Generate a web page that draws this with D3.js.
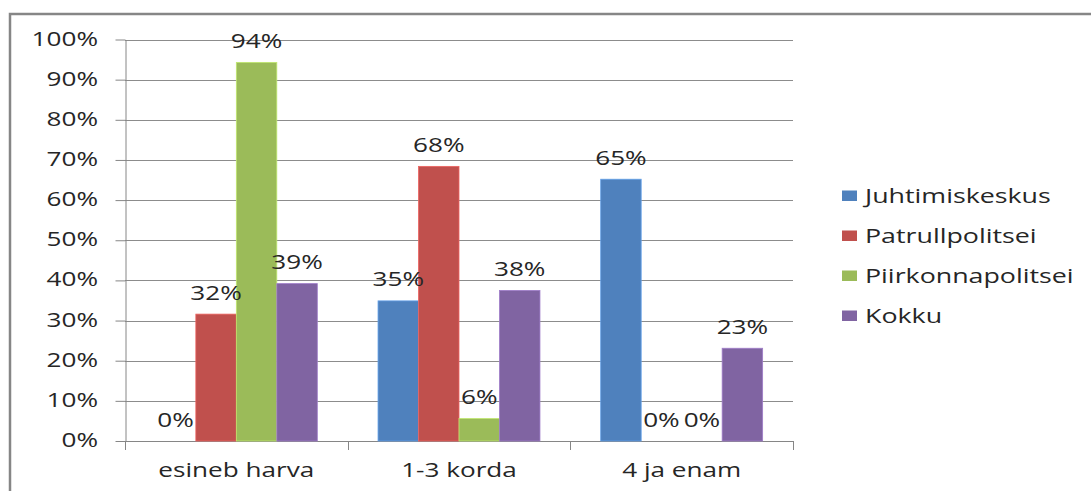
<!DOCTYPE html>
<html>
<head>
<meta charset="utf-8">
<script src="https://cdn.jsdelivr.net/npm/d3@7"></script>
<style>
  body { margin: 0; background: #fff; }
  text { font-family: "Open Sans", sans-serif; fill: #262626; }
</style>
</head>
<body>
<div class="chart"></div>
<script>
var categories = ['esineb harva', '1-3 korda', '4 ja enam'];
var seriesNames = ['Juhtimiskeskus', 'Patrullpolitsei', 'Piirkonnapolitsei', 'Kokku'];
var seriesColors = ['#4F81BD', '#C0504D', '#9BBB59', '#8064A2'];
// values per series, one per category (percent)
var juhtimiskeskus = [0, 34.9, 65.2];
var patrullpolitsei = [31.6, 68.4, 0];
var piirkonnapolitsei = [94.3, 5.6, 0];
var kokku = [39.2, 37.5, 23.1];
var yTicks = [0, 10, 20, 30, 40, 50, 60, 70, 80, 90, 100];

var seriesValues = [juhtimiskeskus, patrullpolitsei, piirkonnapolitsei, kokku];

var width = 1091,
    height = 491,
    plotLeft = 125,
    plotRight = 793,
    plotTop = 39.5,
    plotBottom = 441,
    stretch = 1.34,   // the original picture is squeezed wide
    fontSize = 19.5;

var svg = d3.select('.chart').append('svg')
  .attr('width', width)
  .attr('height', height);

// outer frame, runs off the right and bottom edges
svg.append('rect')
  .attr('x', 10)
  .attr('y', 14)
  .attr('width', width + 20)
  .attr('height', height + 20)
  .attr('fill', 'none')
  .attr('stroke', '#868686')
  .attr('stroke-width', 2.5);

var x0 = d3.scaleBand()
  .domain(categories)
  .range([plotLeft, plotRight])
  .paddingInner(0)
  .paddingOuter(0);

var x1 = d3.scaleBand()
  .domain(seriesNames)
  .range([0, x0.bandwidth()])
  .paddingInner(0)
  .paddingOuter(0.75);

var y = d3.scaleLinear()
  .domain([0, 100])
  .range([plotBottom, plotTop]);

function stretched(sel, getX, getY) {
  sel.attr('transform', function(d, i) {
    return 'translate(' + getX(d, i) + ',' + getY(d, i) + ') scale(' + stretch + ',1)';
  });
}

// gridlines
svg.append('g').attr('class', 'grid')
  .selectAll('line')
  .data(yTicks)
  .enter().append('line')
  .attr('x1', plotLeft)
  .attr('x2', plotRight)
  .attr('y1', function(d) { return Math.round(y(d)) + 0.5; })
  .attr('y2', function(d) { return Math.round(y(d)) + 0.5; })
  .attr('stroke', '#8c8c8c')
  .attr('stroke-width', 1.2);

// y axis
var yAxis = d3.axisLeft(y)
  .tickValues(yTicks)
  .tickSizeInner(10)
  .tickSizeOuter(0)
  .tickPadding(0)
  .tickFormat(function(d) { return d + '%'; });

var gy = svg.append('g')
  .attr('transform', 'translate(' + (plotLeft + 0.5) + ',0)')
  .call(yAxis);
gy.select('.domain').attr('stroke', '#868686');
gy.selectAll('.tick line').attr('stroke', '#868686');
gy.selectAll('.tick text').remove();

svg.append('g').attr('class', 'ylabels')
  .selectAll('text')
  .data(yTicks)
  .enter().append('text')
  .attr('text-anchor', 'end')
  .style('font-size', fontSize + 'px')
  .text(function(d) { return d + '%'; })
  .call(stretched, function() { return 98; }, function(d) { return y(d) + 6; });

// x axis line and boundary ticks
var gx = svg.append('g').attr('class', 'xaxis');
gx.append('line')
  .attr('x1', plotLeft)
  .attr('x2', plotRight)
  .attr('y1', plotBottom + 0.5)
  .attr('y2', plotBottom + 0.5)
  .attr('stroke', '#868686')
  .attr('stroke-width', 1.2);
gx.selectAll('.bound')
  .data(categories.concat(['end']))
  .enter().append('line')
  .attr('class', 'bound')
  .attr('x1', function(d, i) { return Math.round(plotLeft + i * x0.step()) + 0.5; })
  .attr('x2', function(d, i) { return Math.round(plotLeft + i * x0.step()) + 0.5; })
  .attr('y1', plotBottom)
  .attr('y2', plotBottom + 9)
  .attr('stroke', '#868686');

gx.selectAll('text')
  .data(categories)
  .enter().append('text')
  .attr('text-anchor', 'middle')
  .style('font-size', fontSize + 'px')
  .text(function(d) { return d; })
  .call(stretched, function(d) { return x0(d) + x0.bandwidth() / 2; }, function() { return 477; });

// bars
var groups = svg.append('g').attr('class', 'bars')
  .selectAll('g')
  .data(seriesNames)
  .enter().append('g')
  .attr('fill', function(d, i) { return seriesColors[i]; })
  .attr('stroke', function(d, i) { return d3.color(seriesColors[i]).brighter(0.6).formatHex(); })
  .attr('stroke-width', 0.8);

function barData(name, i) {
  return categories.map(function(c, j) {
    return {series: name, category: c, value: seriesValues[i][j]};
  });
}

groups.selectAll('rect')
  .data(barData)
  .enter().append('rect')
  .attr('x', function(d) { return x0(d.category) + x1(d.series); })
  .attr('width', x1.bandwidth())
  .attr('y', function(d) { return y(d.value); })
  .attr('height', function(d) { return plotBottom - y(d.value); })
  .style('display', function(d) { return d.value > 0 ? null : 'none'; });

// value labels
var allBars = [];
seriesNames.forEach(function(name, i) { allBars = allBars.concat(barData(name, i)); });

svg.append('g').attr('class', 'labels')
  .selectAll('text')
  .data(allBars)
  .enter().append('text')
  .attr('text-anchor', 'middle')
  .style('font-size', fontSize + 'px')
  .text(function(d) { return Math.round(d.value) + '%'; })
  .call(stretched,
    function(d) { return x0(d.category) + x1(d.series) + x1.bandwidth() / 2; },
    function(d) { return y(d.value) - 14.5; });

// legend
var legend = svg.append('g').attr('class', 'legend')
  .selectAll('g')
  .data(seriesNames)
  .enter().append('g')
  .attr('transform', function(d, i) { return 'translate(842,' + (203 + i * 40) + ')'; });

legend.append('rect')
  .attr('x', 0)
  .attr('y', -12.5)
  .attr('width', 15)
  .attr('height', 10.5)
  .attr('fill', function(d, i) { return seriesColors[i]; });

legend.append('text')
  .style('font-size', '20px')
  .text(function(d) { return d; })
  .call(stretched, function() { return 23; }, function() { return 0; });
</script>
</body>
</html>
